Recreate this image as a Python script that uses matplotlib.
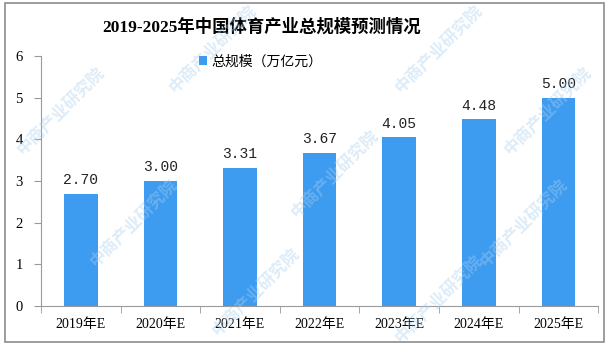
import matplotlib.pyplot as plt
from matplotlib.patches import Rectangle
import numpy as np

plt.rcParams["font.family"] = ["Liberation Serif", "Noto Sans CJK SC"]

years = ["2019年E", "2020年E", "2021年E", "2022年E", "2023年E", "2024年E", "2025年E"]
scale = [2.70, 3.00, 3.31, 3.67, 4.05, 4.48, 5.00]

BAR_COLOR = "#3d9bf0"
AXIS_COLOR = "#9a9a9a"

fig = plt.figure(figsize=(6.09, 3.48), dpi=100)
ax = fig.add_axes([0.0673, 0.1207, 0.915, 0.718])

x = np.arange(len(years))
ax.bar(x, scale, width=0.42, color=BAR_COLOR, label="总规模（万亿元）", zorder=2)
for xi, v in zip(x, scale):
    ax.text(xi, v + 0.16, f"{v:.2f}", ha="center", va="bottom",
            fontsize=10.5, family=["Liberation Mono", "DejaVu Sans Mono"], color="#222222")

ax.set_xlim(-0.5, len(years) - 0.5)
ax.set_ylim(0, 6)
ax.set_yticks(range(7))
ax.set_xticks(x)
ax.set_xticklabels(years, fontsize=10)
ax.set_xticks(np.arange(-0.5, len(years)), minor=True)
ax.tick_params(axis="x", which="major", length=0, pad=9)
ax.tick_params(axis="x", which="minor", length=5, color=AXIS_COLOR, direction="out")
ax.tick_params(axis="y", length=5, color=AXIS_COLOR, labelsize=10.5, pad=8)

for side in ("top", "right"):
    ax.spines[side].set_visible(False)
for side in ("left", "bottom"):
    ax.spines[side].set_color(AXIS_COLOR)

fig.text(0.429, 0.922, "2019-2025年中国体育产业总规模预测情况", ha="center", va="center",
         fontsize=12.5, fontweight="bold")
fig.legend(loc="center", bbox_to_anchor=(0.428, 0.822), frameon=False,
           fontsize=10, handlelength=0.6, handleheight=0.6, handletextpad=0.3)

# faint diagonal watermark
for wx, wy in [(0.1, 0.68), (0.35, 0.86), (0.72, 0.86), (0.9, 0.68),
               (0.22, 0.36), (0.55, 0.5), (0.86, 0.36),
               (0.42, 0.16), (0.72, 0.14)]:
    fig.text(wx, wy, "中商产业研究院", rotation=45, fontsize=12, color="#a9cfee",
             alpha=0.4, ha="center", va="center", fontweight="bold",
             family="Noto Sans CJK SC", zorder=5)

fig.patches.append(Rectangle((0.008, 0.017), 0.983, 0.974, transform=fig.transFigure,
                             fill=False, edgecolor="#8c8c8c", linewidth=1.2))

fig.savefig("out.png", dpi=100)
